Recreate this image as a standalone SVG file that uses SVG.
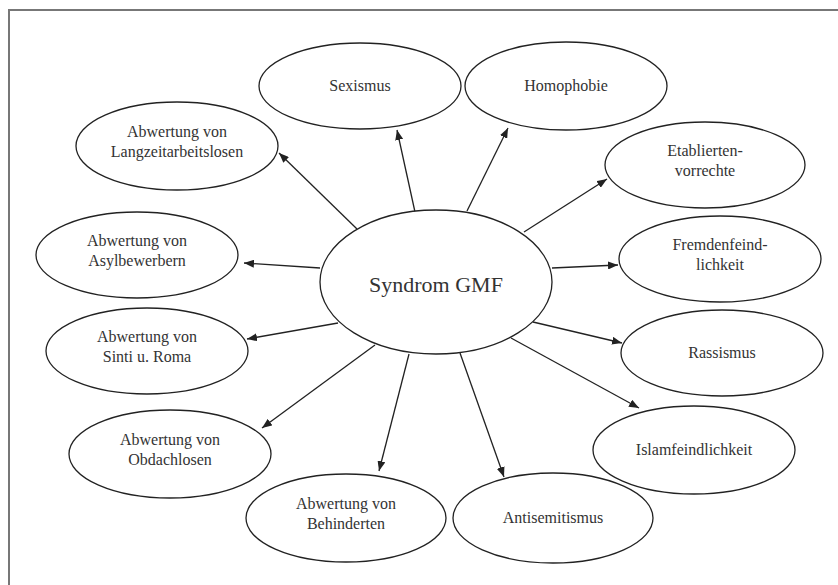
<svg xmlns="http://www.w3.org/2000/svg" width="838" height="585" viewBox="0 0 838 585">
<defs>
<marker id="ah" viewBox="0 0 10 8" refX="10" refY="4" markerWidth="10" markerHeight="8" markerUnits="userSpaceOnUse" orient="auto">
<path d="M0,0 L10,4 L0,8 Z" fill="#222"/>
</marker>
<style>
.n ellipse{fill:#fff;stroke:#222;stroke-width:1.3}
.n text{font-family:"Liberation Serif","Times New Roman",serif;font-size:16px;fill:#333;text-anchor:middle}
#edges line{stroke:#222;stroke-width:1.3;marker-end:url(#ah)}
</style>
</defs>
<rect x="0" y="0" width="838" height="585" fill="#fff"/>
<rect x="9" y="10" width="900" height="700" fill="#fff" stroke="#777" stroke-width="2"/>
<g id="edges">
<line x1="415" y1="212" x2="397" y2="130"/>
<line x1="467" y1="211" x2="508" y2="128"/>
<line x1="357" y1="229" x2="279" y2="153"/>
<line x1="524" y1="232" x2="607" y2="179"/>
<line x1="320" y1="268" x2="244" y2="263"/>
<line x1="552" y1="268" x2="618" y2="265"/>
<line x1="338" y1="323" x2="247" y2="339"/>
<line x1="375" y1="345" x2="262" y2="428"/>
<line x1="409" y1="354" x2="379" y2="471"/>
<line x1="460" y1="353" x2="504" y2="477"/>
<line x1="533" y1="322" x2="622" y2="343"/>
<line x1="511" y1="338" x2="639" y2="408"/>
</g>
<g id="center" class="n"><ellipse cx="436" cy="282" rx="116" ry="72"/><text x="436" y="292" style="font-size:22px">Syndrom GMF</text></g>
<g id="sexismus" class="n"><ellipse cx="360" cy="86" rx="101" ry="43"/><text x="360" y="91">Sexismus</text></g>
<g id="homophobie" class="n"><ellipse cx="566" cy="86" rx="101" ry="44"/><text x="566" y="91">Homophobie</text></g>
<g id="langzeit" class="n"><ellipse cx="177" cy="146" rx="101" ry="44"/><text x="177" y="137">Abwertung von</text><text x="177" y="157">Langzeitarbeitslosen</text></g>
<g id="etablierten" class="n"><ellipse cx="705" cy="165" rx="100" ry="43"/><text x="705" y="156">Etablierten-</text><text x="705" y="176">vorrechte</text></g>
<g id="asyl" class="n"><ellipse cx="137" cy="255" rx="101" ry="43"/><text x="137" y="246">Abwertung von</text><text x="137" y="266">Asylbewerbern</text></g>
<g id="fremden" class="n"><ellipse cx="720" cy="259" rx="101" ry="43"/><text x="720" y="250">Fremdenfeind-</text><text x="720" y="270">lichkeit</text></g>
<g id="sinti" class="n"><ellipse cx="147" cy="351" rx="101" ry="43"/><text x="147" y="342">Abwertung von</text><text x="147" y="362">Sinti u. Roma</text></g>
<g id="rassismus" class="n"><ellipse cx="722" cy="353" rx="101" ry="43"/><text x="722" y="358">Rassismus</text></g>
<g id="obdach" class="n"><ellipse cx="170" cy="454" rx="101" ry="44"/><text x="170" y="445">Abwertung von</text><text x="170" y="465">Obdachlosen</text></g>
<g id="islam" class="n"><ellipse cx="694" cy="450" rx="101" ry="44"/><text x="694" y="455">Islamfeindlichkeit</text></g>
<g id="behinderten" class="n"><ellipse cx="346" cy="518" rx="100" ry="44"/><text x="346" y="509">Abwertung von</text><text x="346" y="529">Behinderten</text></g>
<g id="antisemitismus" class="n"><ellipse cx="553" cy="518" rx="100" ry="45"/><text x="553" y="523">Antisemitismus</text></g>
</svg>
